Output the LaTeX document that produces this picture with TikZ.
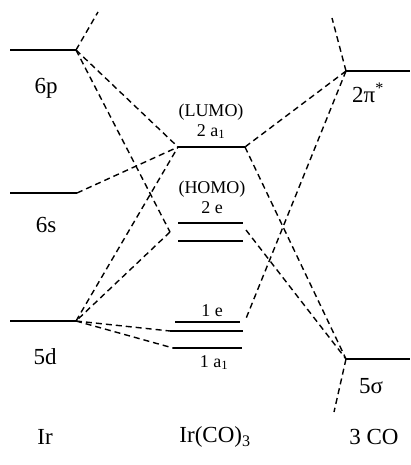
\documentclass[tikz,border=0pt]{standalone}
\usepackage{fontspec}
\setmainfont{Liberation Serif}
\usepackage{tikz}

\begin{document}
\begin{tikzpicture}[x=1pt,y=-1pt,
  level/.style={line width=1.8pt},
  corr/.style={line width=1.4pt,dash pattern=on 6pt off 4pt},
  lab/.style={font=\fontsize{23}{26}\selectfont},
  mo/.style={font=\fontsize{18}{20}\selectfont,align=center,inner sep=0pt}]
 \useasboundingbox (0,0) rectangle (410,465);
 % Ir levels
 \coordinate (6pL) at (10,50);   \coordinate (6pR) at (76,50);
 \coordinate (6sL) at (10,193);  \coordinate (6sR) at (77,193);
 \coordinate (5dL) at (10,321);  \coordinate (5dR) at (76,321);
 % CO levels
 \coordinate (piL) at (346,71);  \coordinate (piR) at (410,71);
 \coordinate (sgL) at (346,359); \coordinate (sgR) at (410,359);
 % Ir(CO)3 levels
 \coordinate (aiiL) at (178,147); \coordinate (aiiR) at (245,147);
 \coordinate (eiiL) at (178,223); \coordinate (eiiR) at (243,223);
 \coordinate (eiiL') at (178,241); \coordinate (eiiR') at (243,241);
 \coordinate (eiL) at (175,322);  \coordinate (eiR) at (240,322);
 \coordinate (eiL') at (170,331); \coordinate (eiR') at (243,331);
 \coordinate (aiL) at (173,348);  \coordinate (aiR) at (242,348);
 \coordinate (eiiK) at (170,232); \coordinate (eiiK') at (246,230);
 \coordinate (eiC) at (245,321);
 \coordinate (6pT) at (98,12); \coordinate (piT) at (332,18); \coordinate (sgB) at (334,412);

 \foreach \a/\b in {6pL/6pR,6sL/6sR,5dL/5dR,piL/piR,sgL/sgR,aiiL/aiiR,
   eiiL/eiiR,eiiL'/eiiR',eiL/eiR,eiL'/eiR',aiL/aiR}
  \draw[level] (\a) -- (\b);

 \foreach \a/\b in {6pR/6pT,6pR/aiiL,6pR/eiiK,eiiK/5dR,6sR/aiiL,5dR/aiiL,
   5dR/eiL',5dR/aiL,piL/piT,piL/aiiR,piL/eiC,aiiR/sgL,eiiK'/sgL,sgL/sgB}
  \draw[corr] (\a) -- (\b);

 \node[lab] (t6p) at (46,88) {6p};
 \node[lab] (t6s) at (46,225) {6s};
 \node[lab] (t5d) at (45,357) {5d};
 \node[lab] (tpi) at (368,93) {2π\textsuperscript{*}};
 \node[lab] (tsg) at (371,386) {5σ};
 \node[mo,anchor=south] (taii) at (211,139) {(LUMO)\\2 a\textsubscript{1}};
 \node[mo,anchor=south] (teii) at (212,214) {(HOMO)\\2 e};
 \node[mo,anchor=south] (tei) at (212,317) {1 e};
 \node[mo,anchor=north] (tai) at (214,355) {1 a\textsubscript{1}};
 \node[lab] (tIr) at (45,437) {Ir};
 \node[lab] (tIrCO) at (215,437) {Ir(CO)\textsubscript{3}};
 \node[lab] (tCO) at (374,437) {3 CO};
\end{tikzpicture}
\end{document}
